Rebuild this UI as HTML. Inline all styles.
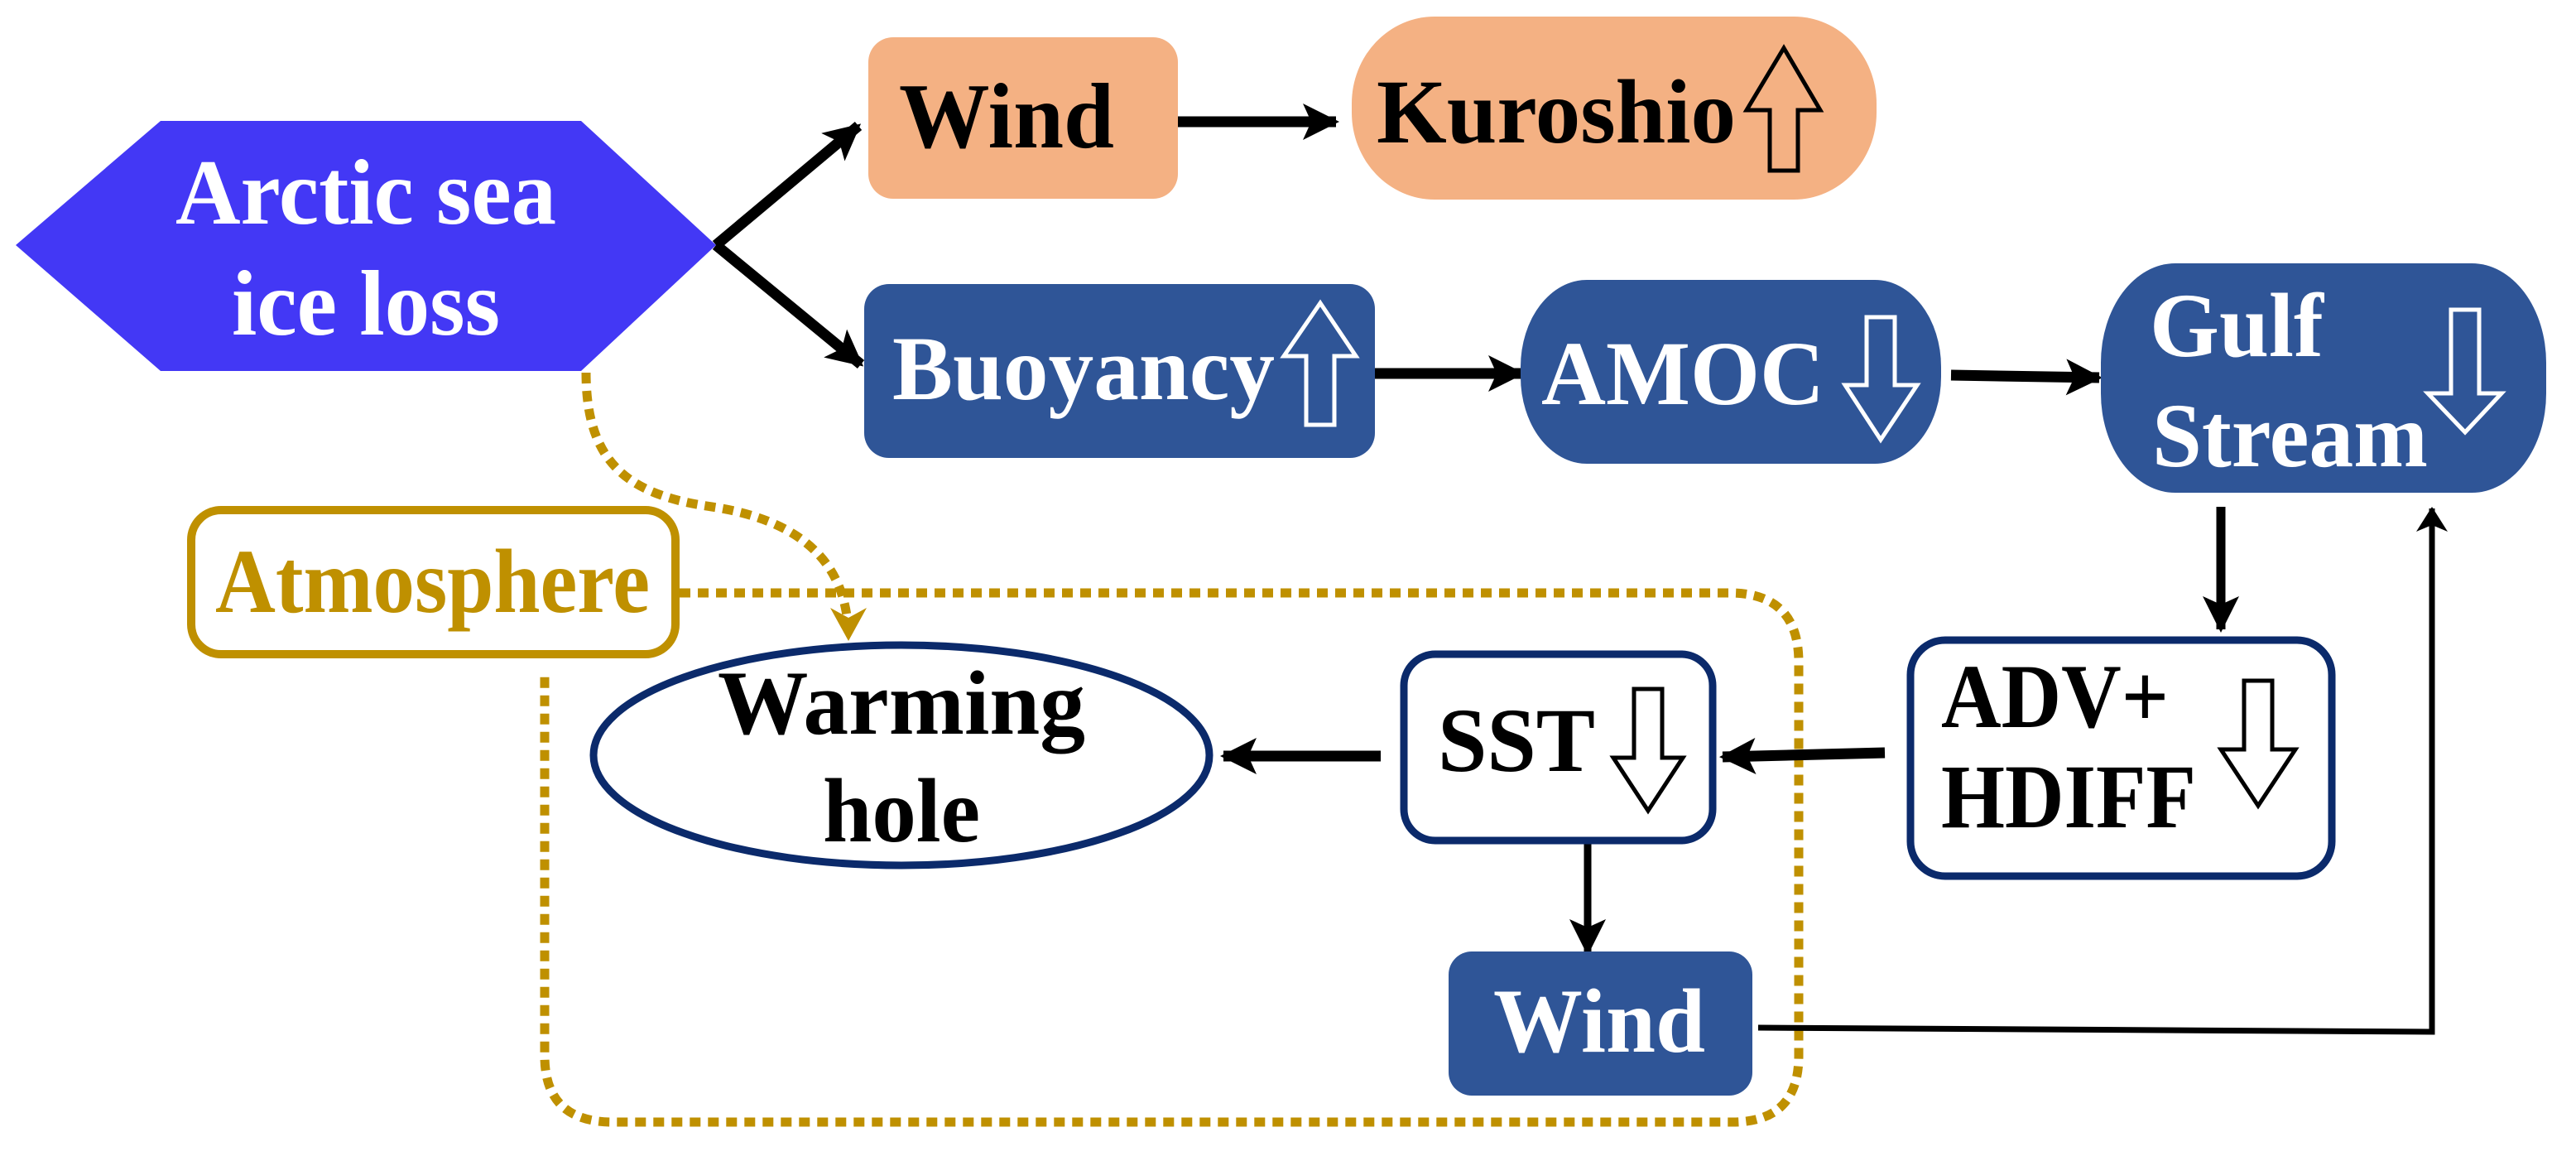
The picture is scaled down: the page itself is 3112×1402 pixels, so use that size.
<!DOCTYPE html>
<html><head><meta charset="utf-8"><style>
html,body{margin:0;padding:0;background:#fff;}
svg{display:block;}
text{font-family:"Liberation Serif",serif;font-weight:bold;}
</style></head><body>
<svg width="3112" height="1402" viewBox="0 0 3112 1402" xmlns="http://www.w3.org/2000/svg">
<defs>
<marker id="ah" markerUnits="userSpaceOnUse" viewBox="0 0 44 44" refX="40" refY="22" markerWidth="44" markerHeight="44" orient="auto">
<path d="M0,0 L44,22 L0,44 L10,22 z" fill="#000"/></marker>
<marker id="ahs" markerUnits="userSpaceOnUse" viewBox="0 0 30 50" refX="28" refY="25" markerWidth="30" markerHeight="50" orient="auto">
<path d="M0,6 L30,25 L0,44 L8,25 z" fill="#000"/></marker>
<marker id="ahg" markerUnits="userSpaceOnUse" viewBox="0 0 40 60" refX="38" refY="30" markerWidth="40" markerHeight="60" orient="auto">
<path d="M0,8 L40,30 L0,52 L12,30 z" fill="#bf9000"/></marker>
</defs>

<!-- dotted gold -->
<g fill="none" stroke="#bf9000" stroke-width="11" stroke-dasharray="13 9">
<path d="M821 716 H2090 Q2173 716 2173 800 V1275 Q2173 1355 2093 1355 H740 Q658 1355 658 1275 V812"/>
<path d="M708 450 C708 560 760 598 860 612 C980 630 1025 690 1025 772" marker-end="url(#ahg)"/>
</g>

<!-- hexagon -->
<polygon points="19,296 194,146 702,146 865,296 702,448 194,448" fill="#4338f5"/>
<text x="442" y="270" font-size="112" fill="#fff" text-anchor="middle" textLength="460" lengthAdjust="spacingAndGlyphs">Arctic sea</text>
<text x="442" y="404" font-size="112" fill="#fff" text-anchor="middle" textLength="324" lengthAdjust="spacingAndGlyphs">ice loss</text>

<!-- arrows from hexagon -->
<g stroke="#000" stroke-width="13" fill="none">
<line x1="865" y1="296" x2="1037" y2="152" marker-end="url(#ah)"/>
<line x1="865" y1="296" x2="1040" y2="440" marker-end="url(#ah)"/>
<line x1="1423" y1="147" x2="1614" y2="147" marker-end="url(#ah)"/>
<line x1="1661" y1="451" x2="1838" y2="451" marker-end="url(#ah)"/>
<line x1="2357" y1="453" x2="2536" y2="456" marker-end="url(#ah)"/>
<line x1="2683" y1="612" x2="2683" y2="760" marker-end="url(#ah)" stroke-width="11"/>
<line x1="2277" y1="909" x2="2081" y2="914" marker-end="url(#ah)"/>
<line x1="1668" y1="913" x2="1478" y2="913" marker-end="url(#ah)"/>
<line x1="1918" y1="1019" x2="1918" y2="1150" marker-end="url(#ah)" stroke-width="9"/>
<polyline points="2124,1241 2938,1246 2938,614" stroke-width="7" marker-end="url(#ahs)"/>
</g>

<!-- Wind orange -->
<rect x="1049" y="45" width="374" height="195" rx="30" fill="#f4b183"/>
<text x="1086" y="178" font-size="112" fill="#000" textLength="260" lengthAdjust="spacingAndGlyphs">Wind</text>

<!-- Kuroshio -->
<rect x="1633" y="20" width="634" height="221" rx="100" ry="105" fill="#f4b183"/>
<text x="1663" y="172" font-size="110" fill="#000" textLength="434" lengthAdjust="spacingAndGlyphs">Kuroshio</text>
<polygon points="2155,58 2199,133 2172,133 2172,206 2138,206 2138,133 2110,133" fill="none" stroke="#000" stroke-width="5"/>

<!-- Buoyancy -->
<rect x="1044" y="343" width="617" height="210" rx="30" fill="#2f5597"/>
<text x="1078" y="482" font-size="110" fill="#fff" textLength="462" lengthAdjust="spacingAndGlyphs">Buoyancy</text>
<polygon points="1595,366 1638,430 1612,430 1612,513 1578,513 1578,430 1551,430" fill="none" stroke="#fff" stroke-width="5"/>

<!-- AMOC -->
<rect x="1837" y="338" width="508" height="222" rx="80" ry="105" fill="#2f5597"/>
<text x="1862" y="488" font-size="110" fill="#fff" textLength="342" lengthAdjust="spacingAndGlyphs">AMOC</text>
<polygon points="2255,383 2289,383 2289,465 2316,465 2272,531 2229,465 2255,465" fill="none" stroke="#fff" stroke-width="5"/>

<!-- Gulf Stream -->
<rect x="2538" y="318" width="538" height="277" rx="90" ry="120" fill="#2f5597"/>
<text x="2597" y="430" font-size="110" fill="#fff" textLength="210" lengthAdjust="spacingAndGlyphs">Gulf</text>
<text x="2600" y="563" font-size="110" fill="#fff" textLength="333" lengthAdjust="spacingAndGlyphs">Stream</text>
<polygon points="2961,374 2995,374 2995,475 3022,475 2978,522 2933,475 2961,475" fill="none" stroke="#fff" stroke-width="5"/>

<!-- ADV+HDIFF -->
<rect x="2308" y="773" width="509" height="285" rx="42" fill="#fff" stroke="#0b2a6b" stroke-width="9"/>
<text x="2345" y="878" font-size="110" fill="#000" textLength="275" lengthAdjust="spacingAndGlyphs">ADV+</text>
<text x="2345" y="999" font-size="110" fill="#000" textLength="308" lengthAdjust="spacingAndGlyphs">HDIFF</text>
<polygon points="2711,822 2745,822 2745,905 2773,905 2728,973 2683,905 2711,905" fill="none" stroke="#000" stroke-width="5"/>

<!-- SST -->
<rect x="1696" y="790" width="373" height="225" rx="38" fill="#fff" stroke="#0b2a6b" stroke-width="9"/>
<text x="1737" y="931" font-size="110" fill="#000" textLength="190" lengthAdjust="spacingAndGlyphs">SST</text>
<polygon points="1974,832 2008,832 2008,915 2033,915 1991,979 1949,915 1974,915" fill="none" stroke="#000" stroke-width="5"/>

<!-- Wind blue -->
<rect x="1750" y="1149" width="367" height="174" rx="28" fill="#2f5597"/>
<text x="1804" y="1270" font-size="110" fill="#fff" textLength="256" lengthAdjust="spacingAndGlyphs">Wind</text>

<!-- Warming hole -->
<ellipse cx="1089" cy="912" rx="372" ry="133" fill="#fff" stroke="#0b2a6b" stroke-width="9"/>
<text x="867" y="886" font-size="110" fill="#000" textLength="444" lengthAdjust="spacingAndGlyphs">Warming</text>
<text x="994" y="1016" font-size="110" fill="#000" textLength="190" lengthAdjust="spacingAndGlyphs">hole</text>

<!-- Atmosphere -->
<rect x="231" y="616" width="585" height="174" rx="36" fill="#fff" stroke="#bf9000" stroke-width="10"/>
<text x="260" y="739" font-size="110" fill="#bf9000" textLength="525" lengthAdjust="spacingAndGlyphs">Atmosphere</text>
</svg>
</body></html>
